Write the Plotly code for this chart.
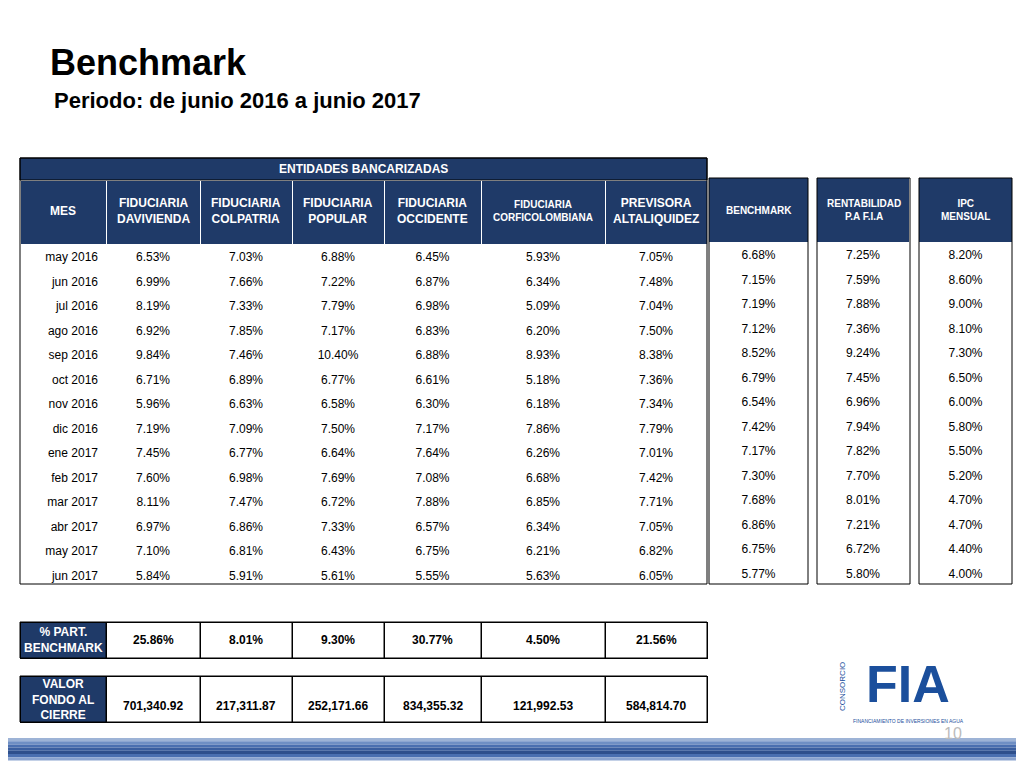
import plotly.graph_objects as go

W, H = 1016, 760   # page body margin is 8px; coordinates below are reference px minus 8
OFF = 8
meses = ["may 2016","jun 2016","jul 2016","ago 2016","sep 2016","oct 2016","nov 2016",
         "dic 2016","ene 2017","feb 2017","mar 2017","abr 2017","may 2017","jun 2017"]
headers = ["MES","FIDUCIARIA<br>DAVIVIENDA","FIDUCIARIA<br>COLPATRIA","FIDUCIARIA<br>POPULAR",
           "FIDUCIARIA<br>OCCIDENTE","FIDUCIARIA<br>CORFICOLOMBIANA","PREVISORA<br>ALTALIQUIDEZ"]
davivienda = ["6.53%","6.99%","8.19%","6.92%","9.84%","6.71%","5.96%","7.19%","7.45%","7.60%","8.11%","6.97%","7.10%","5.84%"]
colpatria = ["7.03%","7.66%","7.33%","7.85%","7.46%","6.89%","6.63%","7.09%","6.77%","6.98%","7.47%","6.86%","6.81%","5.91%"]
popular = ["6.88%","7.22%","7.79%","7.17%","10.40%","6.77%","6.58%","7.50%","6.64%","7.69%","6.72%","7.33%","6.43%","5.61%"]
occidente = ["6.45%","6.87%","6.98%","6.83%","6.88%","6.61%","6.30%","7.17%","7.64%","7.08%","7.88%","6.57%","6.75%","5.55%"]
corfi = ["5.93%","6.34%","5.09%","6.20%","8.93%","5.18%","6.18%","7.86%","6.26%","6.68%","6.85%","6.34%","6.21%","5.63%"]
previsora = ["7.05%","7.48%","7.04%","7.50%","8.38%","7.36%","7.34%","7.79%","7.01%","7.42%","7.71%","7.05%","6.82%","6.05%"]
benchmark = ["6.68%","7.15%","7.19%","7.12%","8.52%","6.79%","6.54%","7.42%","7.17%","7.30%","7.68%","6.86%","6.75%","5.77%"]
rentab = ["7.25%","7.59%","7.88%","7.36%","9.24%","7.45%","6.96%","7.94%","7.82%","7.70%","8.01%","7.21%","6.72%","5.80%"]
ipc = ["8.20%","8.60%","9.00%","8.10%","7.30%","6.50%","6.00%","5.80%","5.50%","5.20%","4.70%","4.70%","4.40%","4.00%"]
side_titles = ["BENCHMARK","RENTABILIDAD<br>P.A F.I.A","IPC<br>MENSUAL"]
part_label = "% PART.<br>BENCHMARK"
valor_label = "VALOR<br>FONDO AL<br>CIERRE"
part = ["25.86%","8.01%","9.30%","30.77%","4.50%","21.56%"]
valor = ["701,340.92","217,311.87","252,171.66","834,355.32","121,992.53","584,814.70"]

NAVY = "#1F3A68"
F = "Liberation Sans, Arial"
colx = [20,106,200,292,384,481,605,707]
cw = [colx[i+1]-colx[i] for i in range(7)]
mids = [(colx[i]+colx[i+1])/2 for i in range(7)]

def px(x): return (x-OFF)/W
def py(y): return 1-(y-OFF)/H
def dom(x0,x1,y0,y1):
    return dict(x=[px(x0),px(x1)], y=[py(y1),py(y0)])

ann = []
def A(text, x, y, size=12, color="black", **kw):
    d = dict(text=text, x=px(x), y=py(y), font=dict(size=size, family=F, color=color),
             xref="paper", yref="paper", showarrow=False, yanchor="middle", xanchor="center")
    d.update(kw); ann.append(d)

fig = go.Figure()
fig.add_trace(go.Table(
    domain=dom(20,707,180,600), columnwidth=cw,
    header=dict(values=[""]*7, fill_color=NAVY, line=dict(color="white", width=1), height=64),
    cells=dict(values=[meses,davivienda,colpatria,popular,occidente,corfi,previsora],
               fill_color="white", font=dict(color="black", size=12, family=F),
               line=dict(color="white", width=0), height=24.5,
               align=["right"]+["center"]*6)))
for i,h in enumerate(headers):
    A(f"<b>{h}</b>", mids[i], 211, size=10 if i == 5 else 12, color="white")

side = [(709,808,benchmark),(817,910,rentab),(919,1012,ipc)]
for (x0,x1,vals),t in zip(side, side_titles):
    fig.add_trace(go.Table(
        domain=dom(x0,x1,178,600),
        header=dict(values=[""], fill_color=NAVY, line=dict(color="white", width=0), height=64),
        cells=dict(values=[vals], fill_color="white", font=dict(color="black", size=12, family=F),
                   line=dict(color="white", width=0), height=24.5, align=["center"])))
    A(f"<b>{t}</b>", (x0+x1)/2, 210, size=10, color="white")

for (y0,y1,lab,vals) in [(622,658,part_label,part),(676,722,valor_label,valor)]:
    fig.add_trace(go.Table(
        domain=dom(20,707,y0,y1+5), columnwidth=cw,
        header=dict(values=[""]*7, fill_color=[NAVY]+["white"]*6,
                    line=dict(color="black", width=1), height=y1-y0),
        cells=dict(values=[[]]*7)))
    ym = (y0+y1)/2
    A(f"<b>{lab}</b>", mids[0], ym, color="white")
    for i,v in enumerate(vals):
        A(f"<b>{v}</b>", mids[i+1], ym + (7 if y1-y0 > 40 else 0))

shapes = [dict(type="rect", xref="paper", yref="paper", x0=px(20), x1=px(707), y0=py(180), y1=py(158),
               fillcolor=NAVY, line=dict(color="black", width=1))]
for (x0,x1,y0,y1) in [(20,707,158,584),(709,808,178,584),(817,910,178,584),(919,1012,178,584),
                      (20,707,622,658),(20,707,676,722)]:
    shapes.append(dict(type="rect", xref="paper", yref="paper", x0=px(x0), x1=px(x1), y0=py(y1), y1=py(y0),
                       line=dict(color="black", width=1), layer="above"))
for i in range(1,7):
    for (y0,y1) in [(622,658),(676,722)]:
        shapes.append(dict(type="line", xref="paper", yref="paper", x0=px(colx[i]), x1=px(colx[i]),
                           y0=py(y1), y1=py(y0), line=dict(color="black", width=1), layer="above"))
grad = ["#9DB3D6","#6F8FC4","#4A6FB0","#3A5E9F","#2E4F8C","#4A6FB0","#8AA3CF"]
for i,c in enumerate(grad):
    shapes.append(dict(type="rect", xref="paper", yref="paper", x0=0, x1=1,
                       y0=py(738+i*3.2+3.2), y1=py(738+i*3.2), fillcolor=c, line=dict(width=0)))

A("<b>Benchmark</b>", 48, 62, size=36, xanchor="left")
A("<b>Periodo: de junio 2016 a junio 2017</b>", 52, 100, size=22, xanchor="left")
A("<b>ENTIDADES BANCARIZADAS</b>", 363, 169, color="white")
A("<b>FIA</b>", 908, 684, size=52, color="#1B4F9C")
A("CONSORCIO", 842, 687, size=8, color="#1B4F9C", textangle=-90)
A("FINANCIAMIENTO DE INVERSIONES EN AGUA", 908, 721, size=5, color="#1B4F9C")
A("10", 953, 733, size=16, color="#BBBBBB")

fig.update_layout(width=W, height=H, margin=dict(l=0,r=0,t=0,b=0), paper_bgcolor="white",
                  plot_bgcolor="white", shapes=shapes, annotations=ann)
fig.write_html("out.html")
